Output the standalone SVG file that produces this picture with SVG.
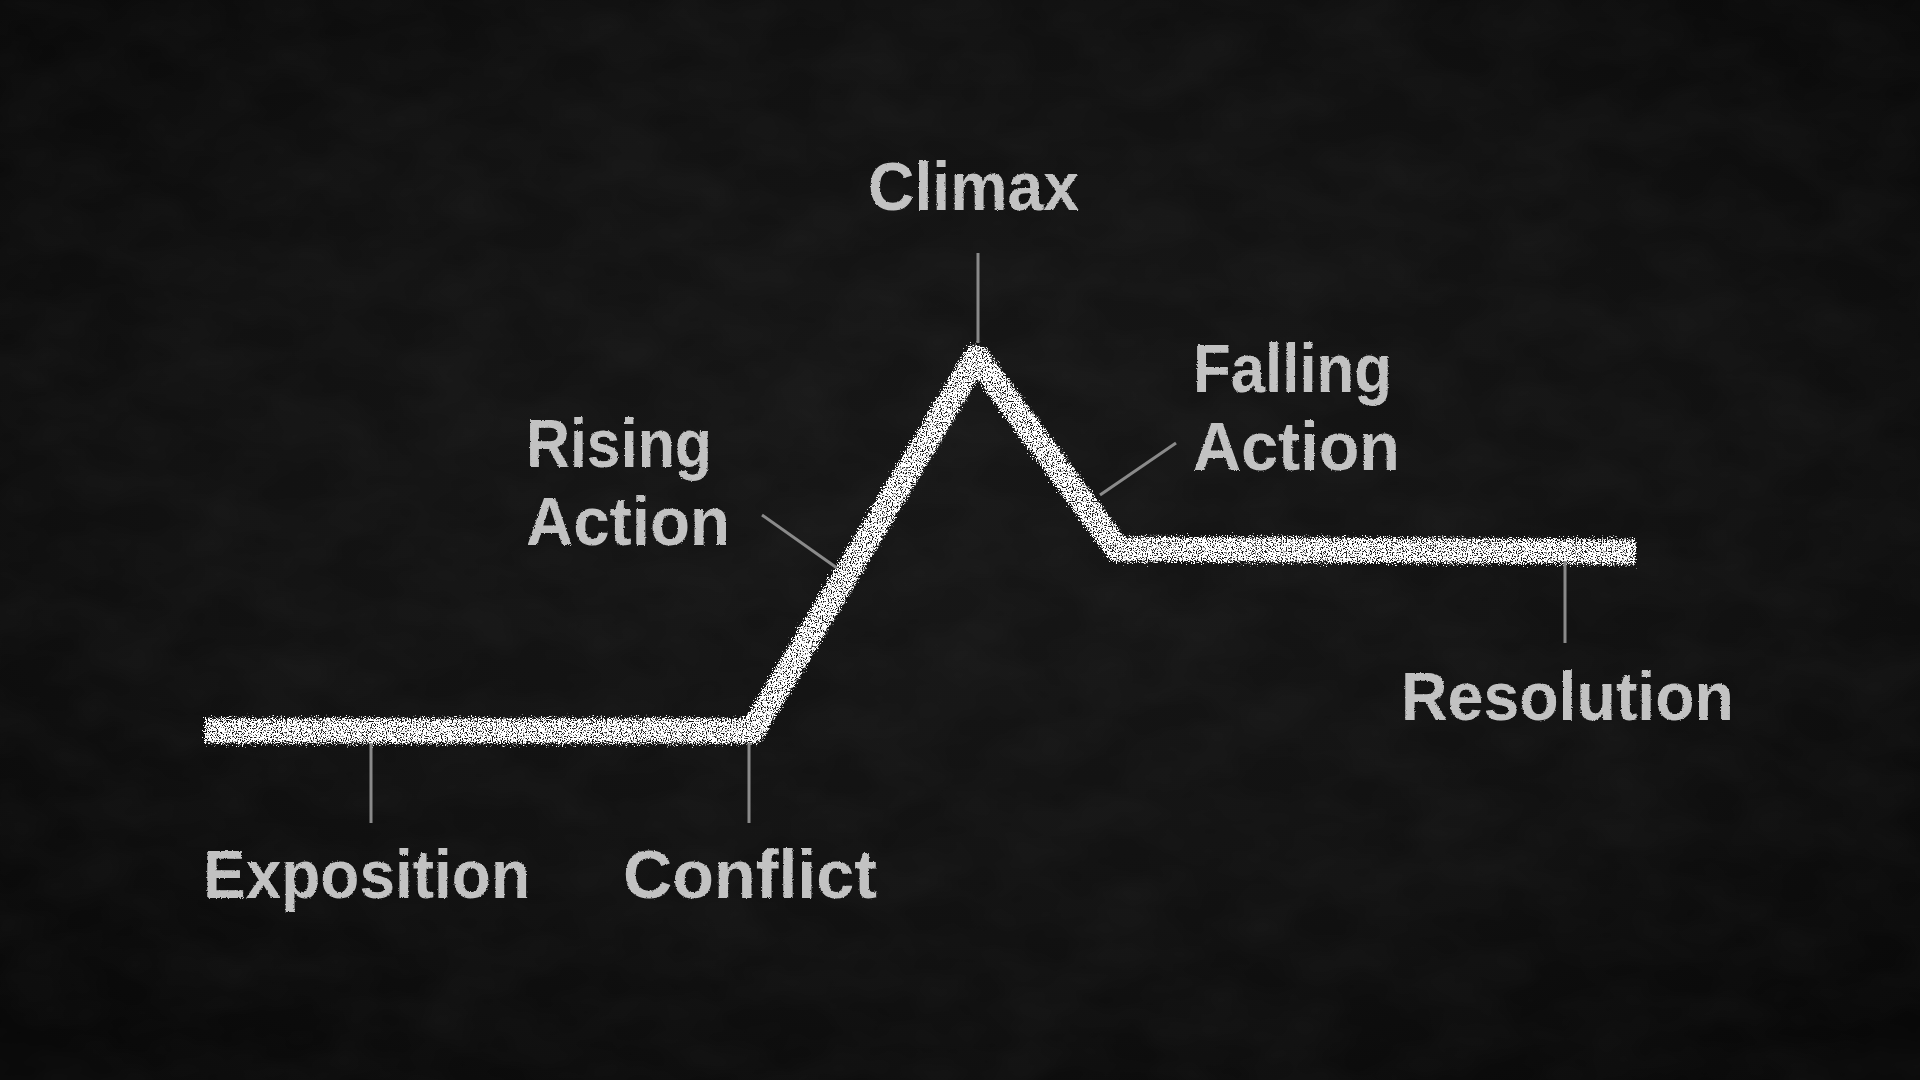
<svg xmlns="http://www.w3.org/2000/svg" width="1920" height="1080" viewBox="0 0 1920 1080">
  <defs>
    <radialGradient id="board" cx="50%" cy="45%" r="70%">
      <stop offset="0" stop-color="#171717"/>
      <stop offset="0.6" stop-color="#111111"/>
      <stop offset="1" stop-color="#080808"/>
    </radialGradient>
    <filter id="boardTex" x="0" y="0" width="100%" height="100%">
      <feTurbulence type="fractalNoise" baseFrequency="0.012 0.02" numOctaves="3" seed="7" result="n"/>
      <feColorMatrix in="n" type="matrix" values="0 0 0 0 1  0 0 0 0 1  0 0 0 0 1  0.05 0 0 0 -0.015"/>
    </filter>
    <filter id="chalk" x="-3%" y="-10%" width="106%" height="120%" color-interpolation-filters="sRGB">
      <feTurbulence type="fractalNoise" baseFrequency="0.8" numOctaves="2" seed="3" result="noise"/>
      <feColorMatrix in="noise" type="matrix" values="0 0 0 0 1  0 0 0 0 1  0 0 0 0 1  9 0 0 0 -3.2" result="mask"/>
      <feDisplacementMap in="SourceGraphic" in2="noise" scale="14" xChannelSelector="R" yChannelSelector="G" result="rough"/>
      <feComposite in="rough" in2="mask" operator="in"/>
    </filter>
    <filter id="chalkText" x="-5%" y="-10%" width="110%" height="120%">
      <feTurbulence type="fractalNoise" baseFrequency="0.7" numOctaves="2" seed="11" result="tn"/>
      <feDisplacementMap in="SourceGraphic" in2="tn" scale="2.5" xChannelSelector="R" yChannelSelector="G"/>
    </filter>
  </defs>
  <style>
    .label { font-family: "Liberation Sans", Arial, sans-serif; font-weight: bold; font-size: 68px; fill: #c2c2c2; }
    .tick { stroke: #8a8a8a; stroke-width: 3; fill: none; }
    .plot { stroke: #ffffff; stroke-width: 25; fill: none; stroke-linejoin: round; stroke-linecap: butt; }
  </style>

  <rect width="1920" height="1080" fill="url(#board)"/>
  <rect width="1920" height="1080" filter="url(#boardTex)"/>

  <g id="plot-line" filter="url(#chalk)">
    <path class="plot" d="M205,731 L753,731 L977,357 L1118,549 L1636,552"/>
  </g>

  <g id="connectors">
    <line class="tick" x1="371" y1="743" x2="371" y2="823"/>
    <line class="tick" x1="749" y1="743" x2="749" y2="823"/>
    <line class="tick" x1="978" y1="253" x2="978" y2="343"/>
    <line class="tick" x1="762" y1="515" x2="837" y2="568"/>
    <line class="tick" x1="1176" y1="443" x2="1100" y2="495"/>
    <line class="tick" x1="1565" y1="561" x2="1565" y2="643"/>
  </g>

  <g filter="url(#chalkText)">
    <g id="climax"><text class="label" x="868" y="210" textLength="211" lengthAdjust="spacingAndGlyphs">Climax</text></g>
    <g id="rising-action">
      <text class="label" x="526" y="467" textLength="186" lengthAdjust="spacingAndGlyphs">Rising</text>
      <text class="label" x="526" y="545" textLength="204" lengthAdjust="spacingAndGlyphs">Action</text>
    </g>
    <g id="falling-action">
      <text class="label" x="1193" y="392" textLength="199" lengthAdjust="spacingAndGlyphs">Falling</text>
      <text class="label" x="1193" y="470" textLength="207" lengthAdjust="spacingAndGlyphs">Action</text>
    </g>
    <g id="resolution"><text class="label" x="1401" y="720" textLength="333" lengthAdjust="spacingAndGlyphs">Resolution</text></g>
    <g id="exposition"><text class="label" x="203" y="898" textLength="327" lengthAdjust="spacingAndGlyphs">Exposition</text></g>
    <g id="conflict"><text class="label" x="623" y="898" textLength="254" lengthAdjust="spacingAndGlyphs">Conflict</text></g>
  </g>
</svg>
